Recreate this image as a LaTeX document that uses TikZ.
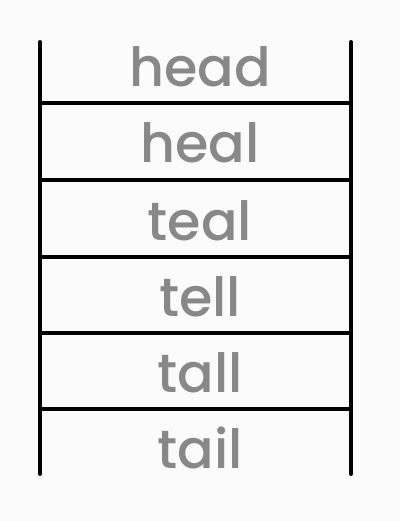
\documentclass[tikz,border=0pt]{standalone}
\usepackage{fontspec}
\setmainfont{Poppins Medium}
\definecolor{wordgray}{HTML}{888888}
\definecolor{paper}{HTML}{FBFBFB}

\begin{document}
\begin{tikzpicture}[
    x = 1pt, y = -1pt,
    rail/.style = {line width = 4pt, line cap = round},
    rung/.style = {line width = 3.8pt},
    word/.style = {font = \fontsize{54}{60}\selectfont, text = wordgray,
                   anchor = base, inner sep = 0pt}]

\fill[paper] (0,0) rectangle (400,521);
\useasboundingbox (0,0) rectangle (400,521);

\coordinate (lt) at (40,42);
\coordinate (lb) at (40,474);
\coordinate (rt) at (351,42);
\coordinate (rb) at (351,474);
\draw[rail] (lt) -- (lb)
	  (rt) -- (rb);

\coordinate (l1) at (40,103);   \coordinate (r1) at (351,103);
\coordinate (l2) at (40,180);   \coordinate (r2) at (351,180);
\coordinate (l3) at (40,257);   \coordinate (r3) at (351,257);
\coordinate (l4) at (40,333);   \coordinate (r4) at (351,333);
\coordinate (l5) at (40,409);   \coordinate (r5) at (351,409);
\draw[rung] (l1) -- (r1)
	  (l2) -- (r2)
	  (l3) -- (r3)
	  (l4) -- (r4)
	  (l5) -- (r5);

\path (200,87) node[word](head) {head}
	  (200,163) node[word](heal) {heal}
	  (200,240) node[word](teal) {teal}
	  (200,316) node[word](tell) {tell}
	  (200,392) node[word](tall) {tall}
	  (200,468) node[word](tail) {tail};
\end{tikzpicture}
\end{document}
